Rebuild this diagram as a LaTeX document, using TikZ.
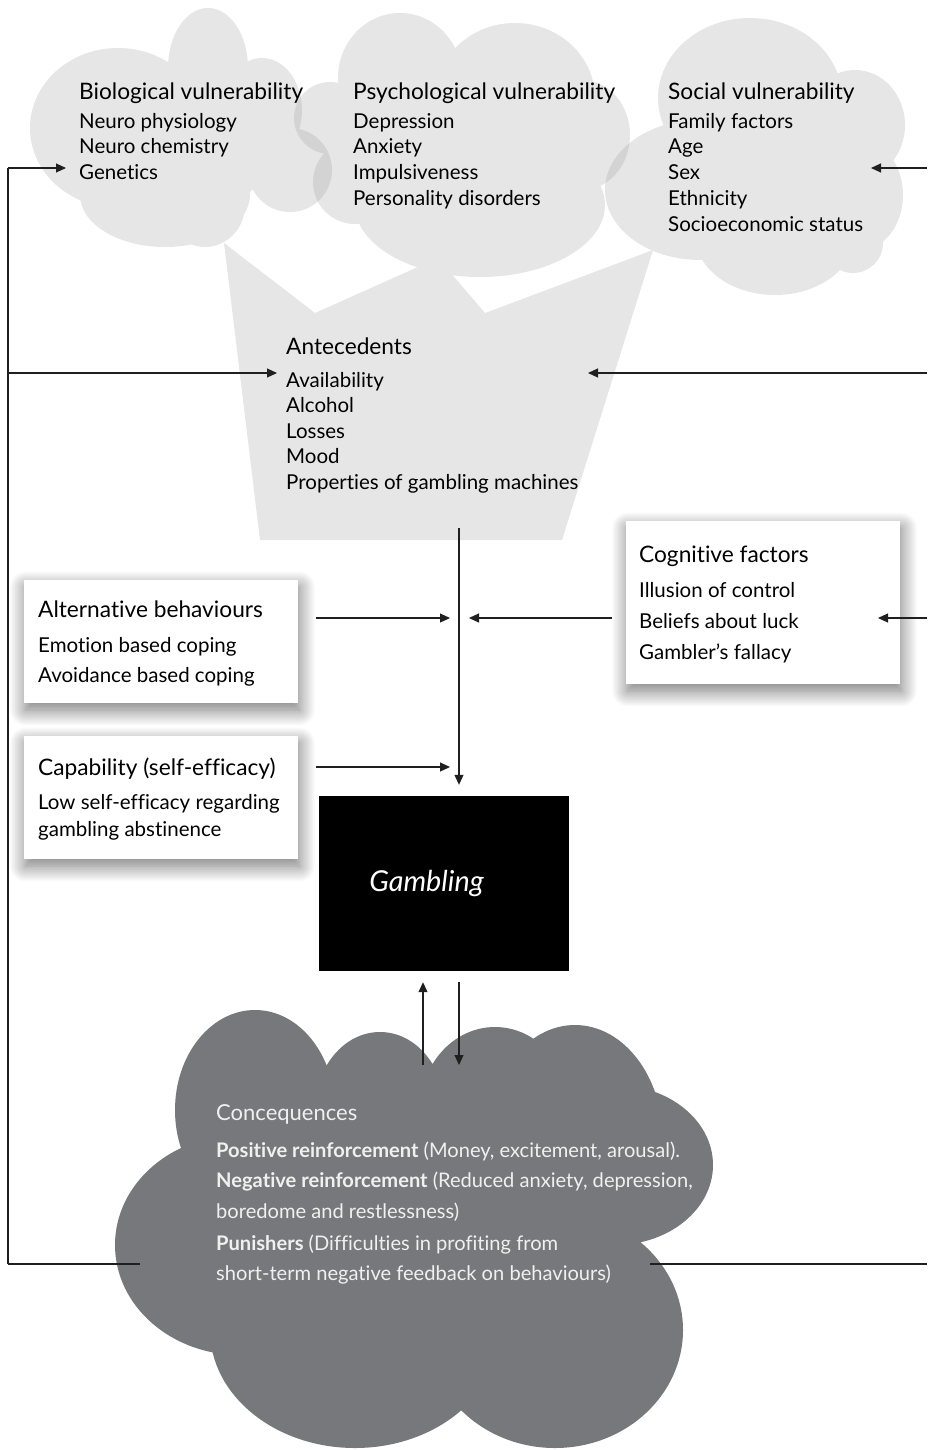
\documentclass[tikz,border=0pt]{standalone}
\usepackage{fontspec}
\setmainfont{Lato}[RawFeature=-liga]
\usetikzlibrary{arrows.meta,shadows.blur,positioning}
\definecolor{cloudfill}{gray}{0.59}
\definecolor{funnelfill}{gray}{0.902}
\definecolor{conseqfill}{RGB}{119,120,123}
\definecolor{wirecol}{gray}{0.12}

\tikzset{
  head/.style={anchor=base west,inner sep=0pt,font=\fontsize{22.7}{26}\selectfont},
  item/.style={anchor=base west,inner sep=0pt,font=\fontsize{20.5}{24}\selectfont},
  small/.style={anchor=base west,inner sep=0pt,text=white!94!black,font=\fontsize{20.1}{24}\selectfont},
  factorbox/.style={fill=white,minimum width=274pt,inner sep=0pt,
    blur shadow={shadow xshift=1.5pt,shadow yshift=-7pt,shadow blur radius=16pt,shadow blur steps=24,shadow opacity=55}},
  wire/.style={draw=wirecol,line width=1.1pt},
  arr/.style={wire,-{Triangle[length=10pt,width=9pt]}},
}

\begin{document}
\begin{tikzpicture}[x=1pt,y=-1pt]
\useasboundingbox (0,0) rectangle (927,1450);

% vulnerability clouds
\fill[cloudfill,fill opacity=0.24]
  (118,128) ellipse [x radius=88,y radius=80]
  (208,68) ellipse [x radius=40,y radius=60]
  (165,195) ellipse [x radius=85,y radius=52]
  (205,205) ellipse [x radius=40,y radius=42]
  (262,110) ellipse [x radius=40,y radius=52]
  (290,170) circle [radius=42]
  (180,145) ellipse [x radius=90,y radius=75];
\fill[cloudfill,fill opacity=0.24]
  (400,78) ellipse [x radius=62,y radius=65]
  (515,98) ellipse [x radius=80,y radius=75]
  (582,135) ellipse [x radius=48,y radius=55]
  (330,118) circle [radius=36]
  (355,182) circle [radius=42]
  (480,205) ellipse [x radius=125,y radius=72]
  (460,150) ellipse [x radius=110,y radius=75];
\fill[cloudfill,fill opacity=0.24]
  (750,98) ellipse [x radius=92,y radius=80]
  (855,125) ellipse [x radius=50,y radius=55]
  (860,195) ellipse [x radius=43,y radius=55]
  (853,243) circle [radius=30]
  (700,190) ellipse [x radius=95,y radius=70]
  (775,235) ellipse [x radius=80,y radius=60]
  (790,165) ellipse [x radius=80,y radius=72];

% antecedents funnel
\fill[funnelfill] (224,243) -- (315,313) -- (438,258) -- (485,313)
  -- (653,250) -- (562,540) -- (260,540) -- cycle;

% consequences cloud
\fill[conseqfill]
  (255,1110) ellipse [x radius=80,y radius=100]
  (380,1110) ellipse [x radius=65,y radius=78]
  (495,1110) ellipse [x radius=75,y radius=83]
  (575,1140) ellipse [x radius=88,y radius=115]
  (615,1165) ellipse [x radius=98,y radius=80]
  (240,1245) ellipse [x radius=125,y radius=110]
  (355,1330) ellipse [x radius=145,y radius=118]
  (555,1330) ellipse [x radius=128,y radius=118]
  (440,1200) ellipse [x radius=200,y radius=110];

% boxes
\path (161,641.5) node[factorbox,minimum height=123pt] (alt) {};
\path (763,602.5) node[factorbox,minimum height=163pt] (cog) {};
\path (161,797.5) node[factorbox,minimum height=123pt] (cap) {};
\path (444,883.5) node[fill=black,minimum width=250pt,minimum height=175pt,inner sep=0pt,
  text=white,font=\fontsize{28.8}{32}\selectfont\itshape] (gamb) {Gambling\hspace*{35pt}};

% texts
\path (79,99.5) node[head] (bio) {Biological vulnerability};
\foreach \t [count=\i] in {Neuro physiology,Neuro chemistry,Genetics}
  \path (79,{102.5+25.75*\i}) node[item] (bio\i) {\t};
\path (353,99.5) node[head] (psy) {Psychological vulnerability};
\foreach \t [count=\i] in {Depression,Anxiety,Impulsiveness,Personality disorders}
  \path (353,{102.5+25.75*\i}) node[item] (psy\i) {\t};
\path (668,99.5) node[head] (soc) {Social vulnerability};
\foreach \t [count=\i] in {Family factors,Age,Sex,Ethnicity,Socioeconomic status}
  \path (668,{102.5+25.75*\i}) node[item] (soc\i) {\t};
\path (286,354) node[head] (ant) {Antecedents};
\foreach \t [count=\i] in {Availability,Alcohol,Losses,Mood,Properties of gambling machines}
  \path (286,{361.5+25.6*\i}) node[item] (ant\i) {\t};
\path (38,617.5) node[head] (althead) {Alternative behaviours};
\foreach \t [count=\i] in {Emotion based coping,Avoidance based coping}
  \path (38,{621.5+30.5*\i}) node[item] (alt\i) {\t};
\path (639,562.5) node[head] (coghead) {Cognitive factors};
\foreach \t [count=\i] in {Illusion of control,Beliefs about luck,Gambler’s fallacy}
  \path (639,{566.5+31*\i}) node[item] (cog\i) {\t};
\path (38,775) node[head] (caphead) {Capability (self-efficacy)};
\foreach \t [count=\i] in {Low self-efficacy regarding,gambling abstinence}
  \path (38,{782+27*\i}) node[item] (cap\i) {\t};
\path (216,1120) node[small,font=\fontsize{22}{25}\selectfont] (con) {Concequences};
\path (216,1157.5) node[small] (con1) {\textbf{Positive reinforcement} (Money, excitement, arousal).};
\path (216,1187.5) node[small] (con2) {\textbf{Negative reinforcement} (Reduced anxiety, depression,};
\path (216,1218.5) node[small] (con3) {boredome and restlessness)};
\path (216,1250.5) node[small] (con4) {\textbf{Punishers} (Difficulties in profiting from};
\path (216,1280.5) node[small] (con5) {short-term negative feedback on behaviours)};

% feedback loops
\coordinate (ltop) at (8,168);
\coordinate (lmid) at (8,373);
\coordinate (lbot) at (8,1264);
\coordinate (rtop) at (927,168);
\coordinate (rmid) at (927,373);
\coordinate (rcog) at (927,618);
\coordinate (rbot) at (927,1264);
\coordinate (conl) at (140,1264);
\coordinate (conr) at (650,1264);
\coordinate (socin) at (871,168);
\coordinate (antin) at (588,373);
\coordinate (cogin) at (878,618);
\draw[wire] (lbot) -- (ltop);
\draw[arr,shorten >=13pt] (ltop) -- (ltop -| bio3.west);
\draw[arr,shorten >=9pt] (lmid) -- (lmid -| ant1.west);
\draw[wire] (lbot) -- (conl);
\draw[arr] (rtop) -- (socin);
\draw[arr] (rmid) -- (antin);
\draw[arr] (rcog) -- (cogin);
\draw[wire] (rbot) -- (conr);

% into gambling
\coordinate (lane) at (459,528);
\coordinate (join) at (459,618);
\coordinate (capjoin) at (459,767);
\draw[arr,shorten >=11pt] (lane) -- (lane |- gamb.north);
\draw[arr,shorten <=18pt,shorten >=9pt] (alt.east |- join) -- (join);
\draw[arr,shorten <=14pt,shorten >=10pt] (cog.west |- join) -- (join);
\draw[arr,shorten <=18pt,shorten >=9pt] (cap.east |- capjoin) -- (capjoin);

% gambling and consequences
\coordinate (upfoot) at (423,1065);
\coordinate (dnfoot) at (459,1065);
\draw[arr,shorten >=11pt] (upfoot) -- (upfoot |- gamb.south);
\draw[arr,shorten <=11pt] (dnfoot |- gamb.south) -- (dnfoot);
\end{tikzpicture}
\end{document}
